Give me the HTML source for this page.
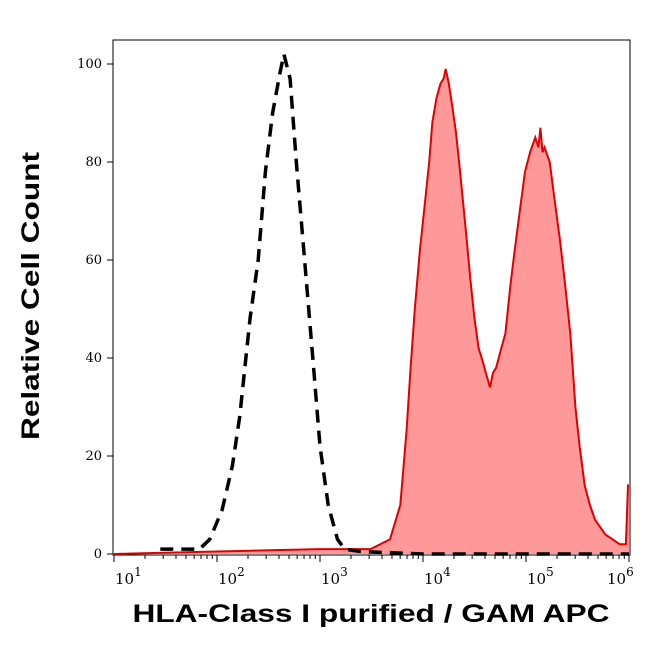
<!DOCTYPE html>
<html><head><meta charset="utf-8"><style>
body{margin:0;background:#fff;font-family:"Liberation Sans",sans-serif}
svg{display:block}
</style></head><body>
<svg id="chart" width="650" height="645">
<rect x="113" y="40" width="517" height="515" fill="#fff" stroke="#000" stroke-width="1"/>
<g id="ticks"></g>
<g id="series"></g>
<text x="371" y="622" text-anchor="middle" font-size="25" font-weight="bold" textLength="477" lengthAdjust="spacingAndGlyphs">HLA-Class I purified / GAM APC</text>
<text transform="translate(39,296) rotate(-90)" text-anchor="middle" font-size="25" font-weight="bold" textLength="288" lengthAdjust="spacingAndGlyphs">Relative Cell Count</text>
</svg>
<script>
const xDecades=[1,2,3,4,5,6];
const yTicks=[0,20,40,60,80,100];
const redLog=[1.0,2.0,3.0,3.49,3.68,3.78,3.84,3.88,3.92,3.97,4.02,4.06,4.09,4.13,4.17,4.20,4.22,4.25,4.28,4.32,4.36,4.42,4.46,4.50,4.54,4.57,4.61,4.65,4.68,4.71,4.76,4.80,4.85,4.89,4.94,4.99,5.04,5.09,5.12,5.14,5.16,5.18,5.23,5.28,5.33,5.38,5.43,5.48,5.52,5.57,5.62,5.67,5.77,5.91,5.97,5.99,6.0];
const redVal=[0,0.5,1,1,3,10,25,38,50,62,72,80,88,93,96,97,99,96,92,86,78,65,56,48,42,40,37,34,37,38,42,45,55,62,70,78,82,85,83,87,82,83,80,72,64,55,45,30,22,14,10,7,4,2,2,14,14];
const blackLog=[1.45,1.83,1.93,2.05,2.15,2.22,2.32,2.40,2.47,2.54,2.61,2.65,2.71,2.77,2.85,2.93,3.0,3.08,3.17,3.24,3.39,4.0,5.0,6.0];
const blackVal=[1,1,3,9,18,28,48,60,78,90,98,102,97,80,60,40,22,10,3,1,0.5,0,0,0];
const X=l=>114+(l-1)*103, Y=v=>554-v*4.9;
const NS='http://www.w3.org/2000/svg';
const tg=document.getElementById('ticks'), sg=document.getElementById('series');
function mk(tag,at,par){const e=document.createElementNS(NS,tag);for(const k in at)e.setAttribute(k,at[k]);par.appendChild(e);return e;}
yTicks.forEach(v=>{
 const l=mk('line',{x1:107,x2:113,y1:Y(v),y2:Y(v),stroke:'#000'},tg);
 
 
 const t=mk('text',{x:102,y:Y(v)+4,'text-anchor':'end','font-size':'13','font-family':'DejaVu Serif'},tg);
 t.textContent=v;
 
 
});
xDecades.forEach(d=>{
 const l=mk('line',{x1:X(d),x2:X(d),y1:555,y2:562,stroke:'#000'},tg);
 
 
 if(d<6)for(let m=2;m<10;m++){const x=X(d+Math.log10(m));mk('line',{x1:x,x2:x,y1:555,y2:559,stroke:'#000'},tg);}
 const t=mk('text',{x:d<6?X(d)+1:X(d)-22,y:584,'text-anchor':'start','font-size':'15','font-family':'DejaVu Serif'},tg);
 t.innerHTML='10<tspan dy="-8" font-size="12">'+d+'</tspan>';
 
 
});
let p='M'+X(redLog[0])+','+Y(0);
redLog.forEach((l,i)=>p+=' L'+X(l).toFixed(1)+','+Y(redVal[i]).toFixed(1));
const area=mk('path',{d:p+' L'+X(6)+','+Y(0)+' Z',fill:'#ff9999',stroke:'none'},sg);


const rl=mk('path',{d:p.replace(/^M[^L]*/,'M'+X(redLog[0])+','+Y(redVal[0])+' '),fill:'none',stroke:'#e00000','stroke-width':'2'},sg);


let q='';
blackLog.forEach((l,i)=>q+=(i?' L':'M')+X(l).toFixed(1)+','+Y(blackVal[i]).toFixed(1));
const bl=mk('path',{d:q,fill:'none',stroke:'#000','stroke-width':'3.5','stroke-dasharray':'13,8'},sg);


</script>
</body></html>
